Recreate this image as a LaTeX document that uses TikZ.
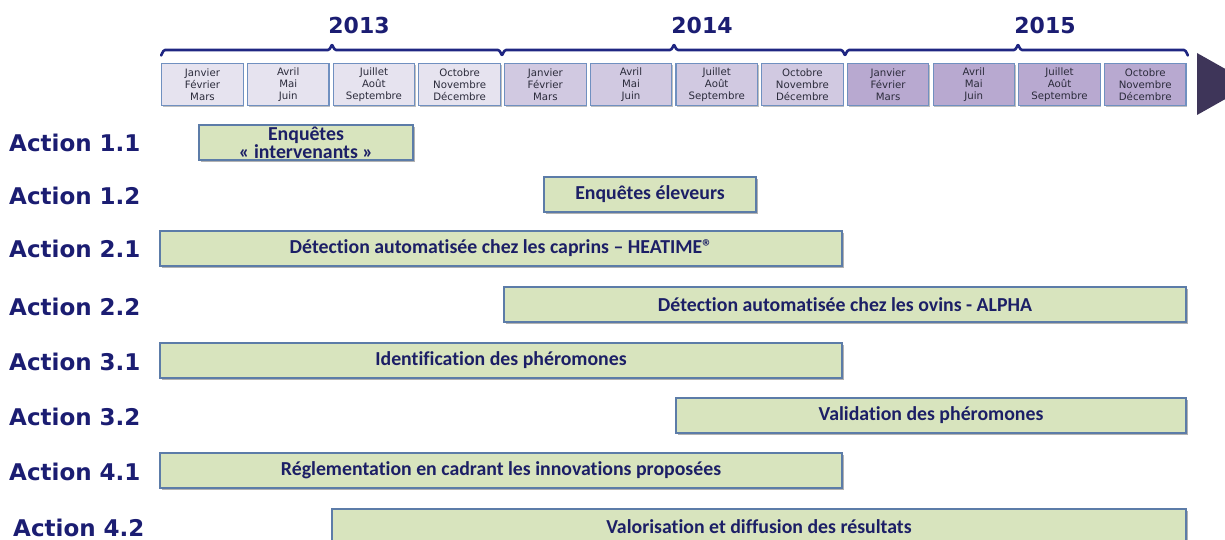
\documentclass[tikz,border=0pt]{standalone}
\usepackage{fontspec}
\setmainfont{DejaVu Sans}
\newfontfamily\barfont[Ligatures=NoCommon]{Carlito}
\usetikzlibrary{shadows}
\definecolor{navy}{HTML}{1B1D72}
\definecolor{bracecol}{HTML}{1F2682}
\definecolor{bartext}{HTML}{1C1F66}
\definecolor{barfill}{HTML}{D8E4BE}
\definecolor{barline}{HTML}{5C7CA8}
\definecolor{mline}{HTML}{7090C0}
\definecolor{mA}{HTML}{E6E3EF}
\definecolor{mB}{HTML}{D1C9E1}
\definecolor{mC}{HTML}{B8A9D0}
\definecolor{arrowcol}{HTML}{3E3559}
\definecolor{mtext}{HTML}{2B2B3B}
\tikzset{
  actlabel/.style={anchor=west, inner sep=0pt, text=navy, font=\fontsize{23}{27}\selectfont\bfseries},
  yearlabel/.style={inner sep=0pt, text=navy, font=\fontsize{22}{26}\selectfont\bfseries},
  monthbox/.style={draw=mline, line width=1.1pt, minimum width=81.5pt, minimum height=42pt, inner sep=0pt,
    align=center, text=mtext, font=\fontsize{10.2}{12}\selectfont,
    drop shadow={shadow xshift=1.2pt, shadow yshift=-1.5pt, opacity=0.25, fill=black}},
  barbox/.style={draw=barline, fill=barfill, line width=1.1pt, minimum height=35pt, inner sep=0pt,
    align=center, text=bartext, font=\barfont\fontsize{19.8}{18}\selectfont\bfseries,
    drop shadow={shadow xshift=1.5pt, shadow yshift=-2pt, opacity=0.3, fill=black}},
  bracebar/.style={draw=bracecol, line width=2.6pt, line cap=round, line join=round}
}
\begin{document}
\begin{tikzpicture}[x=1pt,y=-1pt]
\useasboundingbox (0,0) rectangle (1225,540);
\clip (0,0) rectangle (1225,540);

% years
\node[yearlabel] (y13) at (359,25) {2013};
\node[yearlabel] (y14) at (702,25) {2014};
\node[yearlabel] (y15) at (1045,25) {2015};

% brackets
\draw[bracebar] (161,55) to[out=-90,in=180] (165,50) -- (328,50) to[out=0,in=90] (332,45.5)
  to[out=90,in=180] (336,50) -- (498,50) to[out=0,in=-90] (502,54.5)
  to[out=-90,in=180] (506,50) -- (670,50) to[out=0,in=90] (674,45.5)
  to[out=90,in=180] (678,50) -- (841,50) to[out=0,in=-90] (845,54.5)
  to[out=-90,in=180] (849,50) -- (1014,50) to[out=0,in=90] (1018,45.5)
  to[out=90,in=180] (1022,50) -- (1184,50) to[out=0,in=-90] (1188,55);

% month boxes
\foreach \i/\c/\t in {0/mA/{Janvier\\Février\\Mars},1/mA/{Avril\\Mai\\Juin},2/mA/{Juillet\\Août\\Septembre},3/mA/{Octobre\\Novembre\\Décembre},
  4/mB/{Janvier\\Février\\Mars},5/mB/{Avril\\Mai\\Juin},6/mB/{Juillet\\Août\\Septembre},7/mB/{Octobre\\Novembre\\Décembre},
  8/mC/{Janvier\\Février\\Mars},9/mC/{Avril\\Mai\\Juin},10/mC/{Juillet\\Août\\Septembre},11/mC/{Octobre\\Novembre\\Décembre}}{
  \node[monthbox, fill=\c] (m\i) at ({202.5+85.7*\i},84.5) {\t};
}

% timeline arrow head
\fill[arrowcol] (1197,53) -- (1197,115) -- (1252,84) -- cycle;

% action labels
\node[actlabel] (a11) at (9,143) {Action 1.1};
\node[actlabel] (a12) at (9,195.5) {Action 1.2};
\node[actlabel] (a21) at (9,249) {Action 2.1};
\node[actlabel] (a22) at (9,306.5) {Action 2.2};
\node[actlabel] (a31) at (9,361.5) {Action 3.1};
\node[actlabel] (a32) at (9,417) {Action 3.2};
\node[actlabel] (a41) at (9,471.5) {Action 4.1};
\node[actlabel] (a42) at (13,527.5) {Action 4.2};

% bars
\node[barbox, minimum width=214pt] (b11) at (306,142.5) {Enquêtes\\« intervenants »};
\node[barbox, minimum width=212pt] (b12) at (650,194.5) {Enquêtes éleveurs};
\node[barbox, minimum width=682pt] (b21) at (501,248.5) {Détection automatisée chez les caprins – HEATIME®};
\node[barbox, minimum width=682pt] (b22) at (845,304.5) {Détection automatisée chez les ovins - ALPHA};
\node[barbox, minimum width=682pt] (b31) at (501,360.5) {Identification des phéromones};
\node[barbox, minimum width=510pt] (b32) at (931,415.5) {Validation des phéromones};
\node[barbox, minimum width=682pt] (b41) at (501,470.5) {Réglementation en cadrant les innovations proposées};
\node[barbox, minimum width=854pt, minimum height=38pt] (b42) at (759,528) {\raisebox{3pt}{Valorisation et diffusion des résultats}};
\end{tikzpicture}
\end{document}
